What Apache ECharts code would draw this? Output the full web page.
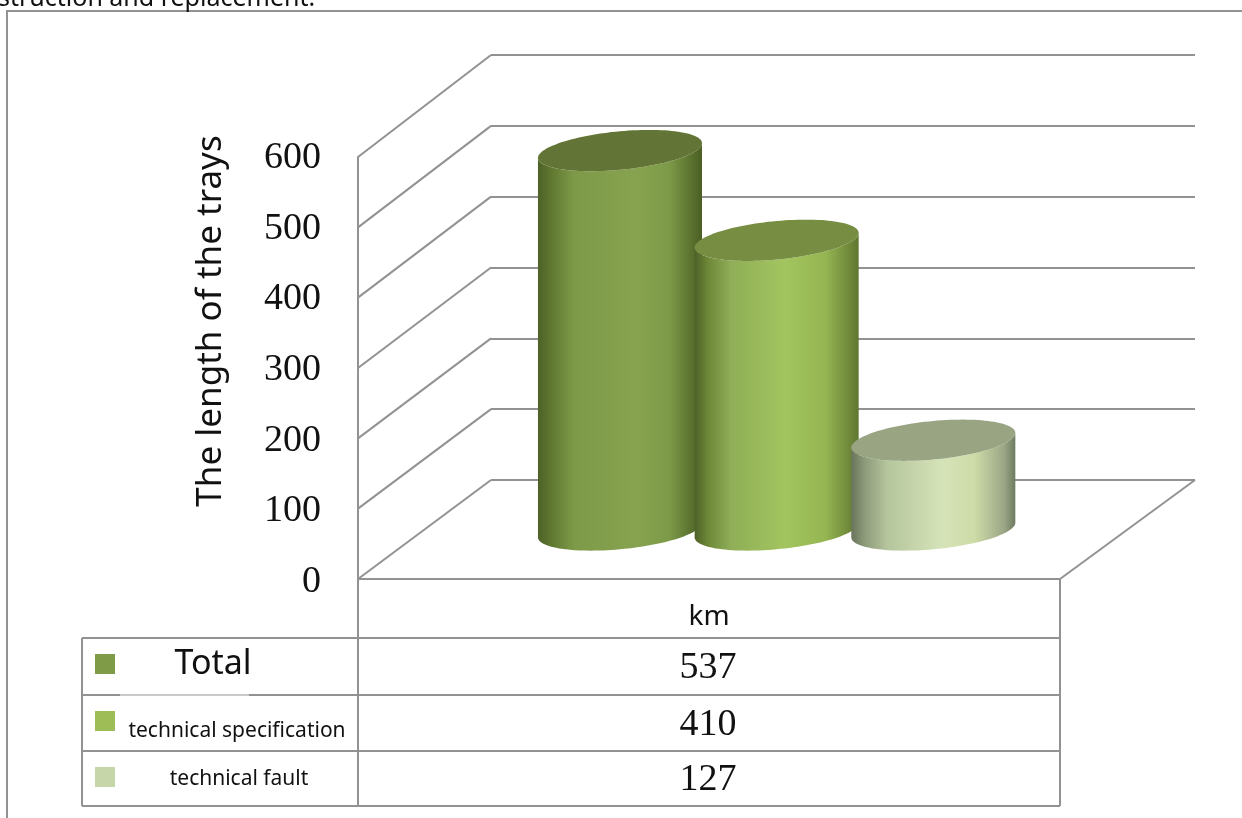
<!DOCTYPE html>
<html>
<head>
<meta charset="utf-8">
<style>html,body{margin:0;padding:0;background:#fff;overflow:hidden}#chart{width:1242px;height:818px}</style>
<script src="https://cdn.jsdelivr.net/npm/echarts@6/dist/echarts.min.js"></script>
</head>
<body>
<div id="chart"></div>
<script>
// Tray length figures, one cylinder and one table row per category
const categories = ['Total', 'technical specification', 'technical fault'];
const lengths = [537, 410, 127];
const axisTicks = [0, 100, 200, 300, 400, 500, 600];
const columnName = 'km';
const axisTitle = 'The length of the trays';
const captionTail = 'struction and replacement.';

const keyColors = ['#7f9b48', '#9fbd57', '#c6d6a9'];
const capColors = ['#637536', '#778e42', '#98a482'];
const bodyStops = [
  [[0, '#4d6127'], [0.08, '#5f7730'], [0.22, '#7d9a48'], [0.6, '#87a350'], [0.8, '#7d9a48'], [0.95, '#566d2b'], [1, '#4b5e26']],
  [[0, '#4d6127'], [0.08, '#6d8738'], [0.22, '#8fae57'], [0.55, '#a3c55f'], [0.8, '#94b551'], [0.95, '#6d8638'], [1, '#5f7630']],
  [[0, '#69745b'], [0.08, '#8d9a7a'], [0.22, '#b5c59c'], [0.55, '#d5e3b8'], [0.75, '#cedca8'], [0.93, '#9ba786'], [1, '#6f7b60']]
];

const GRID = '#929292';
const SERIF = '"Liberation Serif", serif';
const SANS = '"Noto Sans", "Open Sans", sans-serif';

const chart = echarts.init(document.getElementById('chart'), null, { renderer: 'canvas' });

// Back wall: horizontal gridlines plus the diagonals running to the front axis
function renderWalls(params, api) {
  const v = api.value(0);
  const back = api.coord([0, v]);
  const frontY = chart.convertToPixel({ yAxisIndex: 1 }, v);
  const frontX = chart.convertToPixel({ xAxisIndex: 1 }, 0) - 351;
  const children = [{
    type: 'line',
    shape: { x1: frontX, y1: frontY, x2: back[0], y2: back[1] },
    style: { stroke: GRID, lineWidth: 2 }
  }];
  if (v === 0) {
    const far = api.coord([1, 0]);
    children.push({
      type: 'line',
      shape: { x1: frontX + 702, y1: frontY, x2: far[0], y2: far[1] },
      style: { stroke: GRID, lineWidth: 2 }
    });
  }
  return { type: 'group', children };
}

// One upright cylinder: shaded side wall with a flat tilted cap
function renderCylinder(params, api) {
  const i = api.value(0);
  const base = api.coord([i, 0]);
  const top = api.coord([i, api.value(1)]);
  const halfW = api.size([1, 0])[0] * 0.5235;
  const rise = halfW * 0.09;
  const depth = halfW * 0.235;
  const rim = (cy, from, to, n) => {
    const pts = [];
    for (let k = 0; k <= n; k++) {
      const t = from + (to - from) * k / n;
      pts.push([base[0] + halfW * Math.cos(t), cy - rise * Math.cos(t) + depth * Math.sin(t)]);
    }
    return pts;
  };
  const body = rim(base[1], Math.PI, 0, 60).concat(rim(top[1], 0, Math.PI, 60));
  const cap = rim(top[1], 0, Math.PI * 2, 120);
  const stops = bodyStops[i].map(s => ({ offset: s[0], color: s[1] }));
  return {
    type: 'group',
    children: [
      { type: 'polygon', shape: { points: body }, style: { fill: new echarts.graphic.LinearGradient(0, 0, 1, 0, stops) } },
      { type: 'polygon', shape: { points: cap }, style: { fill: capColors[i] } }
    ]
  };
}

const hline = (x1, x2, y, stroke) => ({ type: 'line', silent: true, shape: { x1, y1: y, x2, y2: y }, style: { stroke: stroke || GRID, lineWidth: 2 } });
const vline = (x, y1, y2) => ({ type: 'line', silent: true, shape: { x1: x, y1, x2: x, y2 }, style: { stroke: GRID, lineWidth: 2 } });
const label = (x, y, text, font, size, color) => ({
  type: 'text', silent: true, x, y,
  style: { text, fontFamily: font, fontSize: size, fill: color || '#111', align: 'center', verticalAlign: 'middle' }
});

const rowLines = [638, 695, 751, 806];
const keyY = [664, 721, 777];
const nameSizes = [34, 21, 21];
const nameX = [213, 237, 239];
const nameY = [664, 731, 779];
const valueY = [668, 725, 780];

const graphics = [
  hline(6, 1242, 11),
  vline(7, 10, 818),
  ...rowLines.map(y => hline(82, 1060, y)),
  vline(82, 638, 806),
  vline(1060, 579, 806),
  vline(358, 579, 806),
  { type: 'line', silent: true, shape: { x1: 120, y1: 695, x2: 249, y2: 695 }, style: { stroke: '#c9c9c9', lineWidth: 2 } },
  { type: 'text', silent: true, x: -2, y: 11, style: { text: captionTail, fontFamily: SANS, fontSize: 25, fill: '#111', align: 'left', verticalAlign: 'bottom' } },
  ...categories.flatMap((c, i) => [
    { type: 'rect', silent: true, shape: { x: 95, y: keyY[i] - 10, width: 20, height: 20 }, style: { fill: keyColors[i] } },
    label(nameX[i], nameY[i], c, SANS, nameSizes[i]),
    label(708, valueY[i], String(lengths[i]), SERIF, 38)
  ])
];

chart.setOption({
  animation: false,
  backgroundColor: '#fff',
  grid: [
    { left: 491, width: 704, top: 55, height: 425 },
    { left: 358, width: 702, top: 157, height: 422 },
    { left: 541.65, width: 470, top: 106, height: 424 },
    { left: 358, width: 702, top: 158, height: 424 }
  ],
  xAxis: [
    { gridIndex: 0, type: 'value', min: 0, max: 1, show: false },
    {
      gridIndex: 1, type: 'category', data: [columnName],
      axisLine: { show: true, lineStyle: { color: GRID, width: 2 } },
      axisTick: { show: false },
      axisLabel: { fontFamily: SANS, fontSize: 28, color: '#111', margin: 24 }
    },
    { gridIndex: 2, type: 'category', data: categories, show: false },
    { gridIndex: 3, type: 'value', min: 0, max: 1, show: false }
  ],
  yAxis: [
    {
      gridIndex: 0, type: 'value', min: 0, max: 600, interval: 100,
      axisLine: { show: false }, axisTick: { show: false }, axisLabel: { show: false },
      splitLine: { show: true, lineStyle: { color: GRID, width: 2 } }
    },
    {
      gridIndex: 1, type: 'value', min: 0, max: 600, interval: 100,
      name: axisTitle, nameLocation: 'middle', nameRotate: 90, nameGap: 129,
      nameTextStyle: { fontFamily: SANS, fontSize: 35, color: '#111', padding: [0, 0, 0, 94] },
      axisLine: { show: true, lineStyle: { color: GRID, width: 2 } },
      axisTick: { show: false },
      axisLabel: { show: false },
      splitLine: { show: false }
    },
    { gridIndex: 2, type: 'value', min: 0, max: 600, show: false },
    // Tick numbers sit on their own axis so their spacing can differ slightly from the front edge
    {
      gridIndex: 3, type: 'value', min: 0, max: 600, interval: 100,
      axisLine: { show: false }, axisTick: { show: false },
      axisLabel: { fontFamily: SERIF, fontSize: 38, color: '#111', margin: 37 },
      splitLine: { show: false }
    }
  ],
  series: [
    {
      type: 'custom', xAxisIndex: 0, yAxisIndex: 0, silent: true, z: 1,
      renderItem: renderWalls, data: axisTicks.map(v => [v]),
      encode: { y: 0 }, clip: false
    },
    {
      type: 'custom', xAxisIndex: 2, yAxisIndex: 2, silent: true, z: 3, clip: false,
      renderItem: renderCylinder,
      data: lengths.map((v, i) => [i, v]), encode: { x: 0, y: 1 }
    }
  ],
  graphic: { elements: graphics }
});
</script>
</body>
</html>
